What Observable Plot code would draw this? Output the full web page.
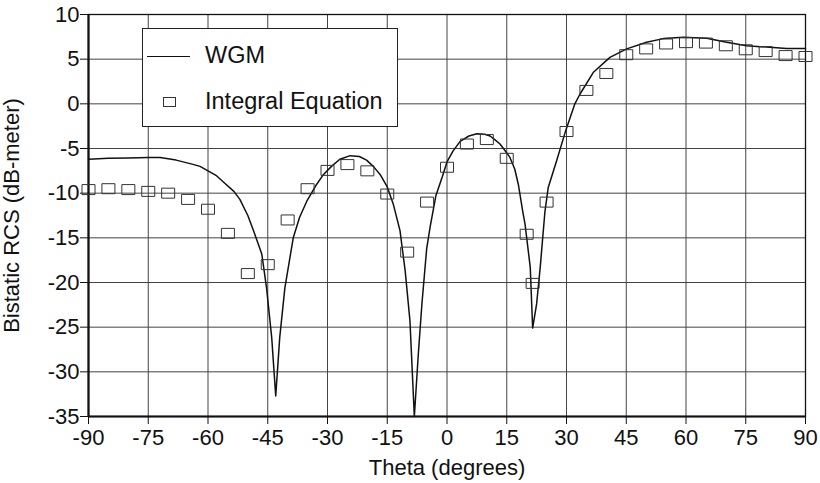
<!DOCTYPE html>
<html>
<head>
<meta charset="utf-8">
<script src="https://cdn.jsdelivr.net/npm/d3@7"></script>
<script src="https://cdn.jsdelivr.net/npm/@observablehq/plot@0.6"></script>
<style>
  html, body { margin: 0; padding: 0; background: #fff; }
  #wrap { position: relative; width: 820px; height: 483px; font-family: "Liberation Sans", Arial, sans-serif; color: #111; }
  #wrap svg { position: absolute; left: 0; top: 0; }
  #legend { position: absolute; left: 142px; top: 28px; width: 254px; height: 97px; border: 1.5px solid #222; background: #fff; }
  #legend .row { position: absolute; left: 0; height: 24px; width: 100%; }
  #legend .txt { position: absolute; left: 62px; font-size: 23.5px; line-height: 24px; top: 0; white-space: nowrap; color: #111; }
  #legend .ln { position: absolute; left: 4px; width: 43px; top: 13px; border-top: 1.5px solid #111; }
  #legend .sq { position: absolute; left: 20px; top: 8px; width: 11px; height: 8px; border: 1px solid #333; }
</style>
</head>
<body>
<div id="wrap"></div>
<script>
// ---- data ----
const xTicks = [-90, -75, -60, -45, -30, -15, 0, 15, 30, 45, 60, 75, 90];
const yTicks = [-35, -30, -25, -20, -15, -10, -5, 0, 5, 10];
const xDomain = [-90, 90];
const yDomain = [-35, 10];

// WGM curve
const wgmTheta = [-90, -85, -80, -75, -72, -68, -64, -62, -60, -58, -56, -53.5, -52, -50, -48.5, -46.5, -45.3, -44, -43,
  -42, -40.7, -38.6, -37, -35.2, -33, -31, -29, -26.9, -24.3, -22, -20.2, -18.5, -16.8, -15, -13.5, -11.8, -10.5, -9.3, -8.2,
  -7.2, -6.3, -5.1, -4.2, -2.8, -1.2, 0, 1.5, 3.3, 5.5, 7.5, 9.5, 10.8, 12, 13.3, 14.5, 15.8, 17, 17.9, 19, 19.6, 20.9, 21.5,
  22.5, 23.4, 24.6, 25.4, 27.5, 29.8, 32.1, 33.4, 36.7, 40.9, 45.1, 50.1, 54.3, 59.3, 65.2, 70.2, 75.2, 80.2, 85.3, 90];
const wgmRCS = [-6.2, -6.1, -6.05, -6.0, -6.0, -6.3, -6.75, -7.0, -7.5, -8.0, -8.8, -9.8, -10.7, -12.5, -14.3, -16.8, -20.6, -26.2, -32.7,
  -26.2, -20.6, -15.0, -12.7, -10.9, -9.2, -7.9, -7.0, -6.2, -5.8, -5.9, -6.3, -7.0, -7.9, -9.3, -11.2, -14.2, -18.7, -24.3, -35,
  -28, -22.4, -16.2, -13.7, -10.3, -8.2, -6.5, -5.3, -4.2, -3.6, -3.35, -3.4, -3.6, -4.0, -4.5, -5.2, -6.0, -7.3, -9.0, -12, -13.5, -18.3, -25.1,
  -22.4, -18.3, -12.0, -9.4, -6.4, -3.0, 0.0, 1.1, 3.5, 5.2, 6.15, 6.9, 7.3, 7.45, 7.35, 6.9, 6.5, 6.35, 6.2, 6.2];

// Integral Equation markers
const ieTheta = [-90, -85, -80, -75, -70, -65, -60, -55, -50, -45, -40, -35, -30, -25, -20, -15, -10, -5, 0, 5, 10, 15, 20, 21.5,
  25, 30, 35, 40, 45, 50, 55, 60, 65, 70, 75, 80, 85, 90];
const ieRCS = [-9.6, -9.5, -9.6, -9.8, -10.0, -10.7, -11.8, -14.5, -19.0, -18.0, -13.0, -9.5, -7.45, -6.8, -7.5, -10.1, -16.6, -11.0, -7.1, -4.5, -4.0, -6.1, -14.6, -20.1,
  -11.0, -3.1, 1.5, 3.4, 5.5, 6.15, 6.7, 6.85, 6.8, 6.5, 6.05, 5.85, 5.4, 5.3];

const seriesNames = ["WGM", "Integral Equation"];
const xLabel = "Theta (degrees)";
const yLabel = "Bistatic RCS (dB-meter)";

// ---- build ----
const wgm = wgmTheta.map((x, i) => ({x, y: wgmRCS[i]}));
const ie = ieTheta.map((x, i) => ({x, y: ieRCS[i]}));

const rectSymbol = { draw(ctx) { ctx.rect(-6.5, -5, 13, 10); } };
const fmt = d => String(d);

const chart = Plot.plot({
  width: 820,
  height: 483,
  marginLeft: 88,
  marginRight: 15,
  marginTop: 14,
  marginBottom: 67,
  style: { fontFamily: "Liberation Sans, Arial, sans-serif", fontSize: "22px", color: "#111", background: "#fff" },
  x: { domain: xDomain },
  y: { domain: yDomain },
  marks: [
    Plot.gridX(xTicks, { stroke: "#444", strokeOpacity: 1, strokeWidth: 1 }),
    Plot.gridY(yTicks, { stroke: "#444", strokeOpacity: 1, strokeWidth: 1 }),
    Plot.frame({ stroke: "#111", strokeWidth: 1.3 }),
    Plot.ruleX([xDomain[0]], { stroke: "#111", strokeWidth: 2.2 }),
    Plot.ruleY([yDomain[0]], { stroke: "#111", strokeWidth: 2.2 }),
    Plot.axisX(xTicks, { tickSize: 8, tickPadding: 5, fontSize: 22, tickFormat: fmt,
      label: xLabel, labelAnchor: "center", labelArrow: "none", labelOffset: 58 }),
    Plot.axisY(yTicks, { tickSize: 8, tickPadding: 1, fontSize: 22, tickFormat: fmt,
      label: yLabel, labelAnchor: "center", labelArrow: "none", labelOffset: 85 }),
    Plot.line(wgm, { x: "x", y: "y", stroke: "#111", strokeWidth: 1.5, curve: "linear" }),
    Plot.dot(ie, { x: "x", y: "y", symbol: rectSymbol, stroke: "#333", strokeWidth: 1, fill: "none" })
  ]
});

const wrap = document.getElementById("wrap");
wrap.appendChild(chart);

const legend = document.createElement("div");
legend.id = "legend";
legend.innerHTML =
  `<div class="row" style="top:14px"><div class="ln"></div><div class="txt">${seriesNames[0]}</div></div>` +
  `<div class="row" style="top:60px"><div class="sq"></div><div class="txt">${seriesNames[1]}</div></div>`;
wrap.appendChild(legend);
</script>
</body>
</html>
